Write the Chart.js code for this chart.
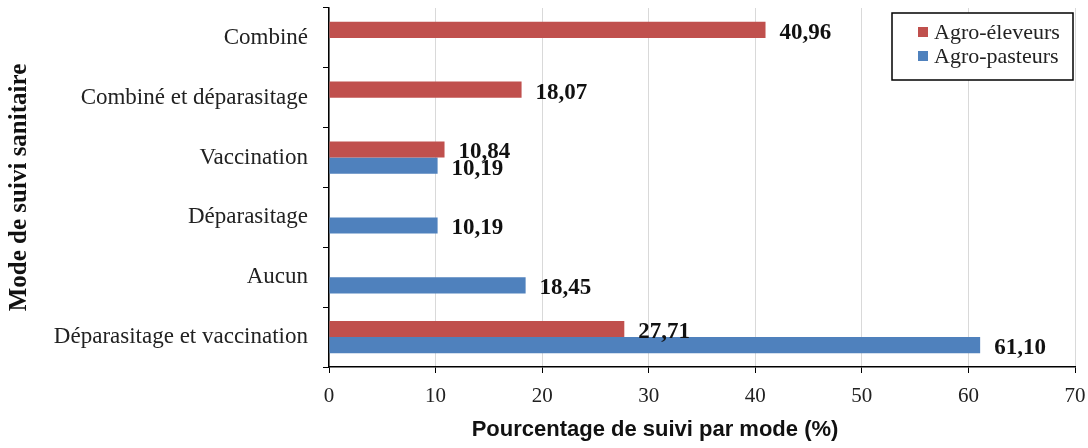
<!DOCTYPE html>
<html>
<head>
<meta charset="utf-8">
<script src="https://cdn.jsdelivr.net/npm/chart.js@4"></script>
<style>
  html, body { margin: 0; padding: 0; background: #fff; }
  #wrap { width: 1088px; height: 448px; }
</style>
</head>
<body>
<div id="wrap"><canvas id="myChart"></canvas></div>
<script>
// categories, top to bottom
var categories = ['Combiné', 'Combiné et déparasitage', 'Vaccination', 'Déparasitage', 'Aucun', 'Déparasitage et vaccination'];
var agroEleveurs = [40.96, 18.07, 10.84, null, null, 27.71];
var agroPasteurs = [null, null, 10.19, 10.19, 18.45, 61.10];
var xTicks = [0, 10, 20, 30, 40, 50, 60, 70];
var xTitle = 'Pourcentage de suivi par mode (%)';

var serif = "'Liberation Serif', 'Times New Roman', serif";
var sans = "'Liberation Sans', Arial, sans-serif";

// value labels at the end of the bars
var valueLabels = {
    id: 'valueLabels',
    afterDatasetsDraw: function(chart) {
        var ctx = chart.ctx;
        ctx.save();
        ctx.font = 'bold 23px ' + serif;
        ctx.fillStyle = '#111';
        ctx.textAlign = 'left';
        ctx.textBaseline = 'middle';
        chart.data.datasets.forEach(function(ds, i) {
            chart.getDatasetMeta(i).data.forEach(function(bar, j) {
                var v = ds.data[j];
                if (v == null) return;
                ctx.fillText(v.toFixed(2).replace('.', ','), bar.x + 14, bar.y + 3);
            });
        });
        ctx.restore();
    }
};

// boxed legend in the top right corner + x title (sits left of the axis centre in the original)
var boxLegend = {
    id: 'boxLegend',
    afterDraw: function(chart) {
        var ctx = chart.ctx;
        ctx.save();
        ctx.fillStyle = '#fff';
        ctx.fillRect(892, 13, 181, 67);
        ctx.strokeStyle = '#000';
        ctx.lineWidth = 1.5;
        ctx.strokeRect(892, 13, 181, 67);
        ctx.font = '22px ' + serif;
        ctx.textBaseline = 'middle';
        chart.data.datasets.forEach(function(ds, i) {
            var y = 32 + i * 24;
            ctx.fillStyle = ds.backgroundColor;
            ctx.fillRect(918, y - 5, 10, 10);
            ctx.fillStyle = '#222';
            ctx.fillText(ds.label, 934, y + 1);
        });

        ctx.font = 'bold 22px ' + sans;
        ctx.fillStyle = '#111';
        ctx.textAlign = 'center';
        ctx.fillText(xTitle, 655, chart.height - 18);
        ctx.restore();
    }
};

var ctx = document.getElementById('myChart').getContext('2d');
var chart = new Chart(ctx, {
    type: 'bar',
    data: {
        labels: categories,
        datasets: [{
            label: 'Agro-éleveurs',
            data: agroEleveurs,
            backgroundColor: '#c0504d'
        }, {
            label: 'Agro-pasteurs',
            data: agroPasteurs,
            backgroundColor: '#4f81bd'
        }]
    },
    options: {
        indexAxis: 'y',
        responsive: true,
        maintainAspectRatio: false,
        animation: false,
        categoryPercentage: 0.54,
        barPercentage: 1.0,
        layout: { padding: { top: 8, right: 13, left: 0, bottom: 0 } },
        plugins: {
            legend: { display: false },
            tooltip: { enabled: false }
        },
        scales: {
            x: {
                min: 0,
                max: 70,
                afterBuildTicks: function(scale) {
                    scale.ticks = xTicks.map(function(v) { return { value: v }; });
                },
                afterFit: function(scale) {
                    scale.height = 81;
                    scale.paddingLeft = 0;
                    scale.paddingRight = 0;
                },
                grid: {
                    color: '#d9d9d9',
                    tickColor: '#000',
                    tickLength: 6
                },
                border: { color: '#000', width: 1.5 },
                ticks: {
                    padding: 11,
                    color: '#222',
                    font: { family: serif, size: 21 }
                }
            },
            y: {
                afterFit: function(scale) {
                    scale.width = 329;
                    scale.paddingTop = 0;
                    scale.paddingBottom = 0;
                },
                grid: {
                    offset: true,
                    drawOnChartArea: false,
                    color: '#000',
                    tickColor: '#000',
                    tickLength: 6
                },
                border: { color: '#000', width: 1.5 },
                ticks: {
                    padding: 15,
                    color: '#222',
                    font: { family: serif, size: 23 }
                },
                title: {
                    display: true,
                    text: 'Mode de suivi sanitaire',
                    color: '#111',
                    font: { family: serif, size: 25, weight: 'bold' },
                    padding: { top: 5, bottom: 0 }
                }
            }
        }
    },
    plugins: [valueLabels, boxLegend]
});
</script>
</body>
</html>
